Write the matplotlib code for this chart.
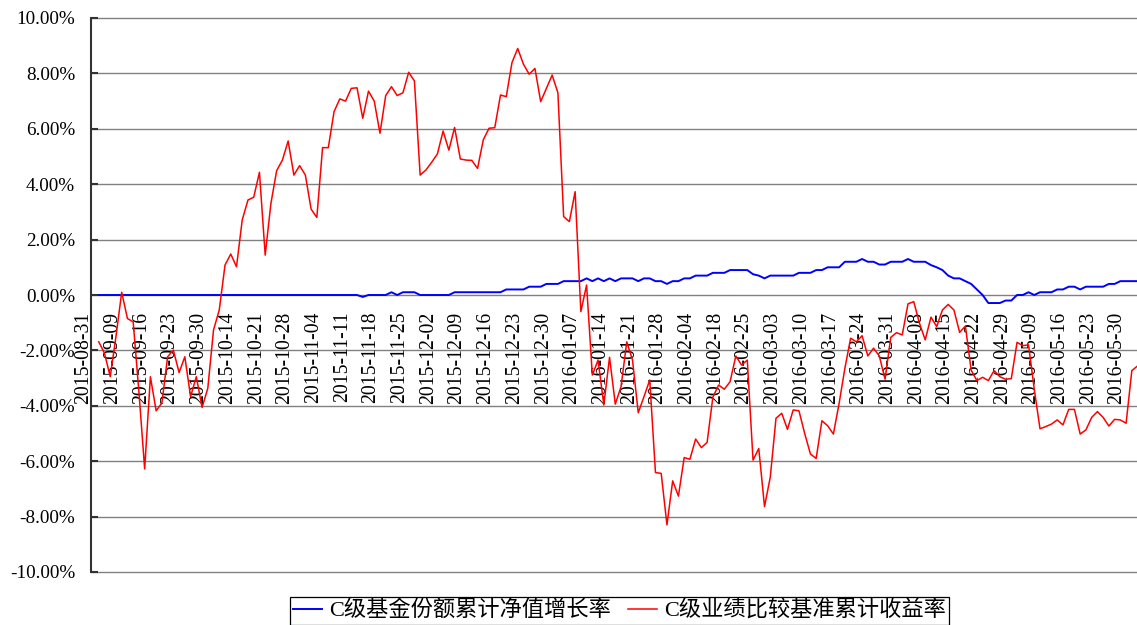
import numpy as np
import pandas as pd
import matplotlib
matplotlib.use('Agg')
import matplotlib.pyplot as plt
from matplotlib.transforms import ScaledTranslation

plt.rcParams['font.family'] = ['Liberation Serif', 'Noto Sans CJK SC', 'DejaVu Sans']

# ---- categories: trading days 2015-08-31 .. 2016-06-01 ----
holidays = ['2015-09-03', '2015-09-04', '2015-10-01', '2015-10-02', '2015-10-05',
            '2015-10-06', '2015-10-07', '2016-01-01', '2016-02-08', '2016-02-09',
            '2016-02-10', '2016-02-11', '2016-02-12', '2016-04-04', '2016-05-02']
dates = [d.strftime('%Y-%m-%d') for d in pd.bdate_range('2015-08-31', '2016-06-01')
         if d.strftime('%Y-%m-%d') not in holidays]
tick_labels = dates[::5]

series_names = ['C级基金份额累计净值增长率', 'C级业绩比较基准累计收益率']

# ---- C级基金份额累计净值增长率 (%) ----
nav_growth = ([np.nan] + [0.0] * 46 + [-0.07] + [0.0] * 4 +
              [0.1, 0.0, 0.1, 0.1, 0.1] + [0.0] * 6 + [0.1] * 9 + [0.2] * 4 + [0.3] * 3 +
              [0.4] * 3 + [0.5] * 4 +
              [0.6, 0.5, 0.6, 0.5, 0.6, 0.5, 0.6, 0.6, 0.6, 0.5, 0.6, 0.6, 0.5, 0.5, 0.4,
               0.5, 0.5, 0.6, 0.6, 0.7, 0.7, 0.7, 0.8, 0.8, 0.8, 0.9, 0.9, 0.9, 0.9,
               0.75, 0.7, 0.6, 0.7, 0.7, 0.7, 0.7, 0.7, 0.8, 0.8, 0.8, 0.9, 0.9,
               1.0, 1.0, 1.0, 1.2, 1.2, 1.2, 1.3, 1.2, 1.2, 1.1, 1.1, 1.2, 1.2, 1.2,
               1.3, 1.2, 1.2, 1.2, 1.08, 1.0, 0.9, 0.7, 0.6, 0.6, 0.5, 0.4, 0.2, 0.0,
               -0.29, -0.29, -0.29, -0.2, -0.2, 0.0, 0.0, 0.1, 0.0, 0.1, 0.1, 0.1,
               0.2, 0.2, 0.3, 0.3, 0.2, 0.3, 0.3, 0.3, 0.3, 0.4, 0.4, 0.5, 0.5, 0.5, 0.5])

# ---- C级业绩比较基准累计收益率 (%) ----
benchmark = [np.nan,
             -1.69, -2.10, -2.95, -1.50, 0.10, -0.85, -0.97, -3.50, -6.28, -2.95,
             -4.18, -3.90, -2.23, -1.99, -2.80, -2.23, -3.67, -2.95, -4.06, -3.37,
             -1.26, -0.54, 1.08, 1.48, 1.02, 2.71, 3.43, 3.53, 4.43, 1.44,
             3.31, 4.49, 4.87, 5.56, 4.33, 4.67, 4.33, 3.10, 2.80, 5.32,
             5.32, 6.62, 7.08, 7.00, 7.46, 7.48, 6.38, 7.36, 7.00, 5.84,
             7.20, 7.52, 7.20, 7.30, 8.04, 7.73, 4.33, 4.51, 4.79, 5.09,
             5.92, 5.23, 6.05, 4.91, 4.87, 4.86, 4.57, 5.60, 6.02, 6.04,
             7.22, 7.16, 8.39, 8.90, 8.33, 7.97, 8.18, 6.98, 7.46, 7.94,
             7.30, 2.83, 2.65, 3.73, -0.60, 0.36, -2.89, -2.35, -3.97, -2.25,
             -3.94, -3.31, -1.69, -2.35, -4.25, -3.67, -3.07, -6.41, -6.44, -8.30,
             -6.71, -7.26, -5.87, -5.93, -5.20, -5.51, -5.32, -3.69, -3.25, -3.40,
             -3.13, -2.20, -2.53, -2.35, -5.96, -5.54, -7.64, -6.58, -4.45, -4.27,
             -4.85, -4.15, -4.18, -5.00, -5.74, -5.90, -4.54, -4.72, -5.02, -3.91,
             -2.65, -1.56, -1.69, -1.47, -2.20, -1.92, -2.20, -3.04, -1.53, -1.36,
             -1.44, -0.32, -0.24, -1.02, -1.62, -0.80, -1.14, -0.54, -0.34, -0.54,
             -1.35, -1.12, -2.71, -3.09, -2.97, -3.09, -2.73, -2.95, -3.04, -3.02,
             -1.71, -1.83, -1.80, -3.40, -4.83, -4.75, -4.66, -4.51, -4.69, -4.13,
             -4.13, -5.02, -4.87, -4.42, -4.21, -4.42, -4.73, -4.49, -4.51, -4.63,
             -2.73, -2.56]

y_ticks = [-10, -8, -6, -4, -2, 0, 2, 4, 6, 8, 10]

W, H = 1137, 625
fig = plt.figure(figsize=(W / 100, H / 100), dpi=100)
ax = fig.add_axes([91 / W, 53 / H, 1046 / W, 554 / H])

x = np.arange(len(dates))
ax.plot(x, nav_growth, color='#0000FF', lw=1.4, label=series_names[0], zorder=3)
ax.plot(x, benchmark, color='#FF0000', lw=1.1, label=series_names[1], zorder=4)

ax.set_xlim(-0.35, 181.9)
ax.set_ylim(-10, 10)
ax.set_yticks(y_ticks)
ax.set_yticklabels([f'{v:.2f}%' for v in y_ticks])
ax.set_xticks([])

ax.yaxis.grid(True, color='#808080', lw=1.0)
for gl in ax.get_ygridlines():
    gl.set_clip_on(False)
ax.set_axisbelow(True)

for s in ['top', 'right', 'bottom']:
    ax.spines[s].set_visible(False)
ax.spines['left'].set_color('#333333')
ax.spines['left'].set_linewidth(1.5)
ax.tick_params(axis='y', direction='in', length=5, width=1.5, color='#333333',
               pad=11.5, labelsize=13.8, labelcolor='black')

# category labels placed along the zero line
off = ax.transData + ScaledTranslation(-0.09, -0.165, fig.dpi_scale_trans)
for i in range(0, len(dates), 5):
    ax.text(x[i], 0, tick_labels[i // 5], transform=off, rotation=90, ha='center',
            va='top', fontsize=14.2, color='black', clip_on=False)

leg = ax.legend(loc='upper center', bbox_to_anchor=(619.5 / W, 1 - 597 / H),
                bbox_transform=fig.transFigure, ncol=2, frameon=True, fancybox=False,
                edgecolor='black', framealpha=1, fontsize=16, borderpad=0.15,
                handlelength=1.3, handletextpad=0.3, columnspacing=0.8,
                borderaxespad=0)
leg.get_frame().set_linewidth(0.9)

fig.savefig('out.png', dpi=100)
